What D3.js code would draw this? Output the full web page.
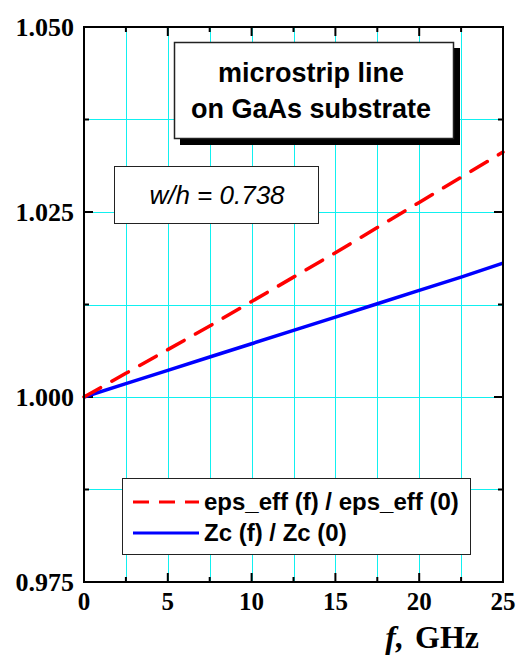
<!DOCTYPE html>
<html>
<head>
<meta charset="utf-8">
<script src="https://d3js.org/d3.v7.min.js"></script>
<style>
  body { margin: 0; background: #fff; }
  svg { display: block; }
</style>
</head>
<body>
<div id="chart"></div>
<script>
// frequency, GHz
const freq = [0, 2.5, 5, 7.5, 10, 12.5, 15, 17.5, 20, 22.5, 25];
// eps_eff(f) / eps_eff(0)
const epsRatio = [1.0, 1.0032, 1.0064, 1.0096, 1.0129, 1.0162, 1.0195, 1.0229, 1.0263, 1.0297, 1.0331];
// Zc(f) / Zc(0)
const zcRatio = [1.0, 1.0018, 1.0036, 1.0054, 1.0072, 1.009, 1.0108, 1.0126, 1.0144, 1.0162, 1.0181];

const xTicks = [0, 5, 10, 15, 20, 25];
const xMinor = [2.5, 7.5, 12.5, 17.5, 22.5];
const yTicks = [0.975, 1.0, 1.025, 1.05];
const yMinor = [0.9875, 1.0125, 1.0375];

const seriesNames = ["eps_eff (f) / eps_eff (0)", "Zc (f) / Zc (0)"];
const titleLines = ["microstrip line", "on GaAs substrate"];
const paramText = "w/h = 0.738";

const width = 522;
const height = 655;
const margin = { left: 84, right: 19, top: 27, bottom: 73 };

const svg = d3
  .select("#chart")
  .append("svg")
  .attr("width", width)
  .attr("height", height);

const x = d3
  .scaleLinear()
  .domain([0, 25])
  .range([margin.left, width - margin.right]);
const y = d3
  .scaleLinear()
  .domain([0.975, 1.05])
  .range([height - margin.bottom, margin.top]);

// grid
const grid = svg.append("g").attr("stroke", "#11f0f0").attr("stroke-width", 1);
grid
  .selectAll(".gx")
  .data(xMinor.concat(xTicks.slice(1, -1)))
  .enter()
  .append("line")
  .attr("x1", (d) => Math.round(x(d)) + 0.5)
  .attr("x2", (d) => Math.round(x(d)) + 0.5)
  .attr("y1", y.range()[1])
  .attr("y2", y.range()[0]);
grid
  .selectAll(".gy")
  .data(yMinor.concat(yTicks.slice(1, -1)))
  .enter()
  .append("line")
  .attr("y1", (d) => Math.round(y(d)) + 0.5)
  .attr("y2", (d) => Math.round(y(d)) + 0.5)
  .attr("x1", x.range()[0])
  .attr("x2", x.range()[1]);

// ticks on all four sides (inward)
const tickLayer = svg.append("g").attr("stroke", "#000").attr("stroke-width", 2);
function vTicks(vals, len) {
  vals.forEach((v) => {
    tickLayer.append("line")
      .attr("x1", x(v)).attr("x2", x(v))
      .attr("y1", y.range()[0]).attr("y2", y.range()[0] - len);
    tickLayer.append("line")
      .attr("x1", x(v)).attr("x2", x(v))
      .attr("y1", y.range()[1]).attr("y2", y.range()[1] + len);
  });
}
function hTicks(vals, len) {
  vals.forEach((v) => {
    tickLayer.append("line")
      .attr("y1", y(v)).attr("y2", y(v))
      .attr("x1", x.range()[0]).attr("x2", x.range()[0] + len);
    tickLayer.append("line")
      .attr("y1", y(v)).attr("y2", y(v))
      .attr("x1", x.range()[1]).attr("x2", x.range()[1] - len);
  });
}
vTicks(xTicks, 9);
vTicks(xMinor, 5);
hTicks(yTicks, 9);
hTicks(yMinor, 5);

// lines
const line = (vals) =>
  d3.line()
    .x((d, i) => x(freq[i]))
    .y((d) => y(d))(vals);

svg.append("path")
  .attr("d", line(zcRatio))
  .attr("fill", "none")
  .attr("stroke", "#0000ff")
  .attr("stroke-width", 3.5);

svg.append("path")
  .attr("d", line(epsRatio))
  .attr("fill", "none")
  .attr("stroke", "#ff0000")
  .attr("stroke-width", 3.5)
  .attr("stroke-linecap", "round")
  .attr("stroke-dasharray", "19,13");

// frame
svg.append("rect")
  .attr("x", x.range()[0])
  .attr("y", y.range()[1])
  .attr("width", x.range()[1] - x.range()[0])
  .attr("height", y.range()[0] - y.range()[1])
  .attr("fill", "none")
  .attr("stroke", "#000")
  .attr("stroke-width", 2);

// tick labels
const serif = "'Liberation Serif', 'Times New Roman', serif";
svg.append("g")
  .selectAll("text")
  .data(xTicks)
  .enter()
  .append("text")
  .attr("x", (d) => x(d))
  .attr("y", 610)
  .attr("text-anchor", "middle")
  .attr("font-family", serif)
  .attr("font-weight", "bold")
  .attr("font-size", 25)
  .text((d) => d);

svg.append("g")
  .selectAll("text")
  .data(yTicks)
  .enter()
  .append("text")
  .attr("x", 74)
  .attr("y", (d) => y(d) + 9)
  .attr("text-anchor", "end")
  .attr("font-family", serif)
  .attr("font-weight", "bold")
  .attr("font-size", 26)
  .text((d) => d3.format(".3f")(d));

// axis title
const xt = svg.append("text")
  .attr("x", 479)
  .attr("y", 648)
  .attr("text-anchor", "end")
  .attr("font-family", serif)
  .attr("font-weight", "bold")
  .attr("font-size", 32);
xt.append("tspan").attr("font-style", "italic").text("f,");
xt.append("tspan").attr("dx", 11).text("GHz");

const sans = "'Liberation Sans', Arial, sans-serif";

// title box with shadow
svg.append("rect")
  .attr("x", 180).attr("y", 48).attr("width", 280).attr("height", 97)
  .attr("fill", "#000");
svg.append("rect")
  .attr("x", 174.5).attr("y", 42.5).attr("width", 279).attr("height", 96)
  .attr("fill", "#fff").attr("stroke", "#222").attr("stroke-width", 1.5);
svg.append("g")
  .selectAll("text")
  .data(titleLines)
  .enter()
  .append("text")
  .attr("x", 311)
  .attr("y", (d, i) => 82 + i * 36)
  .attr("text-anchor", "middle")
  .attr("font-family", sans)
  .attr("font-weight", "bold")
  .attr("font-size", 27)
  .text((d) => d);

// parameter box
svg.append("rect")
  .attr("x", 114.5).attr("y", 166.5).attr("width", 204).attr("height", 57)
  .attr("fill", "#fff").attr("stroke", "#222").attr("stroke-width", 1);
svg.append("text")
  .attr("x", 217)
  .attr("y", 204)
  .attr("text-anchor", "middle")
  .attr("font-family", sans)
  .attr("font-style", "italic")
  .attr("font-size", 26)
  .text(paramText);

// legend
svg.append("rect")
  .attr("x", 122.5).attr("y", 478.5).attr("width", 348).attr("height", 76)
  .attr("fill", "#fff").attr("stroke", "#222").attr("stroke-width", 1);
const legendColors = ["#ff0000", "#0000ff"];
const legendDash = ["16,10", null];
const lg = svg.append("g")
  .selectAll("g")
  .data(seriesNames)
  .enter()
  .append("g")
  .attr("transform", (d, i) => `translate(0,${502 + i * 31})`);
lg.append("line")
  .attr("x1", 133).attr("x2", 199)
  .attr("stroke", (d, i) => legendColors[i])
  .attr("stroke-width", 3)
  .attr("stroke-dasharray", (d, i) => legendDash[i]);
lg.append("text")
  .attr("x", 204)
  .attr("y", 8)
  .attr("font-family", sans)
  .attr("font-weight", "bold")
  .attr("font-size", 24)
  .text((d) => d);
</script>
</body>
</html>
